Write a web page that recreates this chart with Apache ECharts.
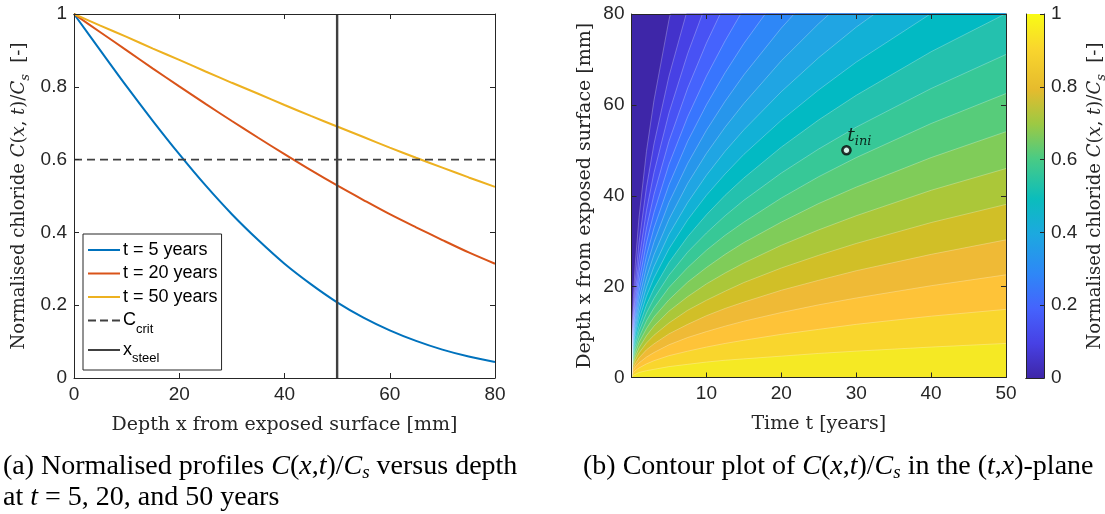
<!DOCTYPE html>
<html>
<head>
<meta charset="utf-8">
<script src="https://cdn.jsdelivr.net/npm/echarts/dist/echarts.min.js"></script>
<style>
html,body{margin:0;padding:0;background:#ffffff;}
#c{width:1105px;height:514px;}
</style>
</head>
<body>
<div id="c"></div>
<script>
// ---------------- DATA ----------------
// (a) profiles: depth x [mm] and normalised chloride C/Cs
const DEPTH_X     = [0, 5, 10, 15, 20, 25, 30, 35, 40, 45, 50, 55, 60, 65, 70, 75, 80];
const PROFILE_T5  = [1, 0.900, 0.801, 0.706, 0.615, 0.529, 0.450, 0.379, 0.314, 0.258, 0.208, 0.166, 0.131, 0.102, 0.078, 0.059, 0.044];
const PROFILE_T20 = [1, 0.950, 0.900, 0.850, 0.801, 0.753, 0.706, 0.660, 0.615, 0.571, 0.529, 0.489, 0.450, 0.414, 0.379, 0.345, 0.314];
const PROFILE_T50 = [1, 0.968, 0.937, 0.905, 0.874, 0.842, 0.811, 0.781, 0.750, 0.720, 0.691, 0.662, 0.633, 0.605, 0.578, 0.551, 0.525];
const PROFILE_NAMES = ['t = 5 years', 't = 20 years', 't = 50 years'];
const C_CRIT  = 0.6;
const X_STEEL = 50;

// (b) contour plot: depth [mm] of each isoline (level of C/Cs) at times TIME_T [years]
const TIME_T = [0, 0.1, 0.25, 0.5, 1, 2, 3, 5, 7.5, 10, 12.5, 15, 20, 25, 30, 40, 50];
const ISO_LEVELS = [0.048, 0.095, 0.143, 0.190, 0.238, 0.286, 0.333, 0.381, 0.429, 0.476,
                    0.524, 0.571, 0.619, 0.667, 0.714, 0.762, 0.810, 0.857, 0.905, 0.952];
const ISO_DEPTHS = [
  [0, 11.1, 17.6, 24.9, 35.2, 49.8, 61.0, 78.7, 96.4, 111.3, 124.5, 136.4, 157.5, 176.1, 192.9, 222.7, 249.0],
  [0, 9.4, 14.8, 21.0, 29.7, 41.9, 51.4, 66.3, 81.2, 93.8, 104.9, 114.9, 132.6, 148.3, 162.4, 187.6, 209.7],
  [0, 8.2, 13.0, 18.4, 26.0, 36.8, 45.1, 58.2, 71.3, 82.4, 92.1, 100.9, 116.5, 130.2, 142.7, 164.7, 184.2],
  [0, 7.4, 11.6, 16.5, 23.3, 32.9, 40.3, 52.0, 63.7, 73.6, 82.3, 90.1, 104.1, 116.4, 127.5, 147.2, 164.6],
  [0, 6.6, 10.5, 14.8, 21.0, 29.7, 36.3, 46.9, 57.4, 66.3, 74.1, 81.2, 93.8, 104.9, 114.9, 132.6, 148.3],
  [0, 6.0, 9.5, 13.4, 19.0, 26.8, 32.9, 42.4, 52.0, 60.0, 67.1, 73.5, 84.9, 94.9, 103.9, 120.0, 134.2],
  [0, 5.4, 8.6, 12.2, 17.2, 24.3, 29.8, 38.5, 47.1, 54.4, 60.8, 66.6, 76.9, 86.0, 94.2, 108.8, 121.6],
  [0, 4.9, 7.8, 11.0, 15.6, 22.0, 27.0, 34.8, 42.7, 49.3, 55.1, 60.3, 69.7, 77.9, 85.3, 98.5, 110.1],
  [0, 4.5, 7.0, 10.0, 14.1, 19.9, 24.4, 31.5, 38.5, 44.5, 49.8, 54.5, 62.9, 70.4, 77.1, 89.0, 99.5],
  [0, 4.0, 6.3, 9.0, 12.7, 17.9, 21.9, 28.3, 34.7, 40.1, 44.8, 49.1, 56.6, 63.3, 69.4, 80.1, 89.6],
  [0, 3.6, 5.7, 8.0, 11.3, 16.0, 19.6, 25.3, 31.0, 35.8, 40.1, 43.9, 50.7, 56.7, 62.1, 71.7, 80.1],
  [0, 3.2, 5.0, 7.1, 10.1, 14.2, 17.4, 22.5, 27.6, 31.8, 35.6, 39.0, 45.0, 50.3, 55.1, 63.6, 71.1],
  [0, 2.8, 4.4, 6.3, 8.8, 12.5, 15.3, 19.8, 24.2, 28.0, 31.3, 34.2, 39.5, 44.2, 48.4, 55.9, 62.5],
  [0, 2.4, 3.8, 5.4, 7.7, 10.8, 13.3, 17.1, 21.0, 24.2, 27.1, 29.7, 34.2, 38.3, 41.9, 48.4, 54.1],
  [0, 2.1, 3.3, 4.6, 6.5, 9.2, 11.3, 14.6, 17.8, 20.6, 23.0, 25.2, 29.1, 32.5, 35.6, 41.2, 46.0],
  [0, 1.7, 2.7, 3.8, 5.4, 7.6, 9.3, 12.0, 14.8, 17.0, 19.0, 20.9, 24.1, 26.9, 29.5, 34.1, 38.1],
  [0, 1.4, 2.1, 3.0, 4.3, 6.1, 7.4, 9.6, 11.7, 13.6, 15.2, 16.6, 19.2, 21.4, 23.5, 27.1, 30.3],
  [0, 1.0, 1.6, 2.3, 3.2, 4.5, 5.5, 7.2, 8.8, 10.1, 11.3, 12.4, 14.3, 16.0, 17.5, 20.2, 22.6],
  [0, 0.7, 1.1, 1.5, 2.1, 3.0, 3.7, 4.8, 5.8, 6.7, 7.5, 8.2, 9.5, 10.6, 11.7, 13.5, 15.0],
  [0, 0.3, 0.5, 0.8, 1.1, 1.5, 1.8, 2.4, 2.9, 3.4, 3.8, 4.1, 4.7, 5.3, 5.8, 6.7, 7.5]
];
const T_INI = [28.7, 50];

// axis ticks
const PROFILE_X_TICKS = [0, 20, 40, 60, 80];
const PROFILE_Y_TICKS = [0, 0.2, 0.4, 0.6, 0.8, 1];
const CONTOUR_T_TICKS = [0, 10, 20, 30, 40, 50];
const CONTOUR_X_TICKS = [0, 20, 40, 60, 80];
const COLORBAR_TICKS  = [0, 0.2, 0.4, 0.6, 0.8, 1];

// ---------------- STYLES ----------------
const AX = '#262626';
const SANS = '"Liberation Sans", Arial, Helvetica, sans-serif';
const SERIF_AX = '"DejaVu Serif", serif';
const SERIF_CAP = '"Liberation Serif", "Times New Roman", serif';
const LINE_COLORS = ['#0072BD', '#D95319', '#EDB120'];
const REF_COLOR = '#404040';
// filled contour band colours (parula), band 0 = below first level
const BAND_COLORS = ['#3e26a8', '#4332cb', '#4741e5', '#4852f4', '#4563fd', '#3875fe', '#2e87f7',
  '#2796eb', '#20a5e3', '#12b1d6', '#02bac3', '#24c1ae', '#37c897', '#57cc7a', '#80cc59',
  '#abc739', '#d1bf27', '#efba36', '#fec338', '#f9d62d', '#f5e924'];
const PARULA_STOPS = ['#3e26a8', '#4741e5', '#4563fd', '#2e87f7', '#1ca9df', '#0bbdbc',
  '#4acb84', '#9dc943', '#e6bb2d', '#f9d62d', '#f9fb15'];
const PARULA_POS = [0, 6, 12, 18, 25, 31, 38, 44, 50, 57, 63];
const ICON_SOLID  = 'path://M0,0H32V2H0Z';
const ICON_DASHED = 'path://M0,0H8V2H0Z M12,0H20V2H12Z M24,0H32V2H24Z';

const pairs = (xs, ys) => xs.map((x, k) => [x, ys[k]]);
const first = a => a[0];
const last = a => a[a.length - 1];

const tickLabel = {color: AX, fontSize: 19, fontFamily: SANS, margin: 7};
function mathRich(fs) {
  return {
    i: {fontFamily: SERIF_AX, fontStyle: 'italic', fontSize: fs, color: AX, lineHeight: 26},
    s: {fontFamily: SERIF_AX, fontStyle: 'italic', fontSize: Math.round(fs * 0.7), color: AX, lineHeight: 13, verticalAlign: 'bottom'}
  };
}
const nameStyle = fs => ({fontFamily: SERIF_AX, fontSize: fs, color: AX, lineHeight: 26, rich: mathRich(fs)});

function valAxis(o) {
  const main = !o.box;
  return Object.assign({
    type: 'value', z: 10,
    axisLine: {show: true, onZero: false, lineStyle: {color: AX, width: 1}},
    axisTick: {show: true, inside: true, length: 5, lineStyle: {color: AX, width: 1}},
    axisLabel: main ? Object.assign({show: true}, tickLabel) : {show: false},
    splitLine: {show: false}
  }, o);
}

const xAxes = [
  valAxis({gridIndex: 0, position: 'bottom', min: first(PROFILE_X_TICKS), max: last(PROFILE_X_TICKS),
    interval: PROFILE_X_TICKS[1] - PROFILE_X_TICKS[0],
    name: 'Depth x from exposed surface [mm]', nameLocation: 'middle', nameGap: 34, nameTextStyle: nameStyle(19)}),
  valAxis({gridIndex: 0, position: 'top', box: true, min: first(PROFILE_X_TICKS), max: last(PROFILE_X_TICKS),
    interval: PROFILE_X_TICKS[1] - PROFILE_X_TICKS[0]}),
  valAxis({gridIndex: 1, position: 'bottom', min: first(CONTOUR_T_TICKS), max: last(CONTOUR_T_TICKS),
    interval: CONTOUR_T_TICKS[1] - CONTOUR_T_TICKS[0],
    axisLabel: Object.assign({show: true, showMinLabel: false}, tickLabel),
    name: 'Time t [years]', nameLocation: 'middle', nameGap: 34, nameTextStyle: nameStyle(19)}),
  valAxis({gridIndex: 1, position: 'top', box: true, min: first(CONTOUR_T_TICKS), max: last(CONTOUR_T_TICKS),
    interval: CONTOUR_T_TICKS[1] - CONTOUR_T_TICKS[0]}),
  {type: 'category', gridIndex: 2, position: 'bottom', data: ['cb'], z: 10,
    axisLine: {show: true, lineStyle: {color: AX}}, axisTick: {show: false}, axisLabel: {show: false}},
  {type: 'category', gridIndex: 2, position: 'top', data: ['cb'], z: 10,
    axisLine: {show: true, lineStyle: {color: AX}}, axisTick: {show: false}, axisLabel: {show: false}}
];
const yAxes = [
  valAxis({gridIndex: 0, position: 'left', min: first(PROFILE_Y_TICKS), max: last(PROFILE_Y_TICKS),
    interval: PROFILE_Y_TICKS[1] - PROFILE_Y_TICKS[0],
    name: 'Normalised chloride {i|C}({i|x}, {i|t})/{i|C}{s|s}  [-]', nameLocation: 'middle', nameGap: 42,
    nameTextStyle: nameStyle(18)}),
  valAxis({gridIndex: 0, position: 'right', box: true, min: first(PROFILE_Y_TICKS), max: last(PROFILE_Y_TICKS),
    interval: PROFILE_Y_TICKS[1] - PROFILE_Y_TICKS[0]}),
  valAxis({gridIndex: 1, position: 'left', min: first(CONTOUR_X_TICKS), max: last(CONTOUR_X_TICKS),
    interval: CONTOUR_X_TICKS[1] - CONTOUR_X_TICKS[0],
    name: 'Depth x from exposed surface [mm]', nameLocation: 'middle', nameGap: 33, nameTextStyle: nameStyle(19)}),
  valAxis({gridIndex: 1, position: 'right', box: true, min: first(CONTOUR_X_TICKS), max: last(CONTOUR_X_TICKS),
    interval: CONTOUR_X_TICKS[1] - CONTOUR_X_TICKS[0]}),
  valAxis({gridIndex: 2, position: 'right', min: first(COLORBAR_TICKS), max: last(COLORBAR_TICKS),
    interval: COLORBAR_TICKS[1] - COLORBAR_TICKS[0],
    axisTick: {show: true, inside: true, length: 4, lineStyle: {color: AX}},
    name: 'Normalised chloride {i|C}({i|x}, {i|t})/{i|C}{s|s}  [-]', nameLocation: 'middle', nameGap: 38,
    nameTextStyle: nameStyle(18)}),
  valAxis({gridIndex: 2, position: 'left', box: true, axisTick: {show: false},
    min: first(COLORBAR_TICKS), max: last(COLORBAR_TICKS)})
];

const series = [];
// contour bands: each isoline fills down to x = 0 with the band colour above its level
ISO_DEPTHS.forEach((row, i) => {
  series.push({
    name: 'C/Cs = ' + ISO_LEVELS[i], type: 'line', xAxisIndex: 2, yAxisIndex: 2,
    data: pairs(TIME_T, row), symbol: 'none', showSymbol: false, silent: true, clip: true,
    lineStyle: {color: 'rgba(255,255,255,0.45)', width: 0.6},
    areaStyle: {color: BAND_COLORS[i + 1], opacity: 1, origin: 'start'},
    z: 1, animation: false
  });
});
series.push({
  name: 't_ini', type: 'scatter', xAxisIndex: 2, yAxisIndex: 2, data: [T_INI],
  symbol: 'circle', symbolSize: 8, z: 5, silent: true,
  itemStyle: {color: '#ffffff', borderColor: '#000000', borderWidth: 2.6},
  label: {show: true, position: [6, -21], formatter: '{t|t}{s|ini}',
    rich: {t: {fontFamily: SERIF_AX, fontStyle: 'italic', fontSize: 19, color: '#000', lineHeight: 24},
           s: {fontFamily: SERIF_AX, fontStyle: 'italic', fontSize: 13, color: '#000', lineHeight: 13, verticalAlign: 'bottom'}}}
});
// profiles
[PROFILE_T5, PROFILE_T20, PROFILE_T50].forEach((p, k) => {
  series.push({
    name: PROFILE_NAMES[k], type: 'line', xAxisIndex: 0, yAxisIndex: 0,
    data: pairs(DEPTH_X, p), symbol: 'none', showSymbol: false, smooth: 0.3, z: 3,
    color: LINE_COLORS[k], lineStyle: {color: LINE_COLORS[k], width: 2}
  });
});
series.push({
  name: 'C_crit', type: 'line', xAxisIndex: 0, yAxisIndex: 0,
  data: [[first(DEPTH_X), C_CRIT], [last(DEPTH_X), C_CRIT]], symbol: 'none', z: 3,
  color: REF_COLOR, lineStyle: {color: REF_COLOR, width: 1.8, type: [8, 5]}
});
series.push({
  name: 'x_steel', type: 'line', xAxisIndex: 0, yAxisIndex: 0,
  data: [[X_STEEL, first(PROFILE_Y_TICKS)], [X_STEEL, last(PROFILE_Y_TICKS)]], symbol: 'none', z: 3,
  color: REF_COLOR, lineStyle: {color: REF_COLOR, width: 2.4}
});
// colorbar
series.push({
  name: 'colorbar', type: 'bar', xAxisIndex: 4, yAxisIndex: 4, data: [last(COLORBAR_TICKS)],
  barWidth: '100%', silent: true, z: 1,
  itemStyle: {color: new echarts.graphic.LinearGradient(0, 1, 0, 0,
    PARULA_STOPS.map((c, k) => ({offset: PARULA_POS[k] / 63, color: c})))}
});

const capRich = {
  i: {fontFamily: SERIF_CAP, fontStyle: 'italic', fontSize: 28, color: '#000', lineHeight: 31},
  s: {fontFamily: SERIF_CAP, fontStyle: 'italic', fontSize: 19, color: '#000', lineHeight: 16, verticalAlign: 'bottom'}
};
const capStyle = {fontFamily: SERIF_CAP, fontSize: 28, fontWeight: 'normal', color: '#000', lineHeight: 31, rich: capRich};

const option = {
  animation: false,
  backgroundColor: '#ffffff',
  title: [
    {text: '(a) Normalised profiles {i|C}({i|x},{i|t})/{i|C}{s|s} versus depth\nat {i|t} = 5, 20, and 50 years',
     left: 3, top: 451, padding: 0, textStyle: capStyle},
    {text: '(b) Contour plot of {i|C}({i|x},{i|t})/{i|C}{s|s} in the ({i|t},{i|x})-plane',
     left: 583, top: 451, padding: 0, textStyle: capStyle}
  ],
  legend: {
    data: [
      {name: PROFILE_NAMES[0], icon: ICON_SOLID},
      {name: PROFILE_NAMES[1], icon: ICON_SOLID},
      {name: PROFILE_NAMES[2], icon: ICON_SOLID},
      {name: 'C_crit', icon: ICON_DASHED},
      {name: 'x_steel', icon: ICON_SOLID}
    ],
    orient: 'vertical', left: 83, top: 234, padding: [7, 4, 5, 5], itemGap: 5.5,
    itemWidth: 32, itemHeight: 2, backgroundColor: '#ffffff', borderColor: AX, borderWidth: 1,
    borderRadius: 0, selectedMode: false,
    formatter: n => n === 'C_crit' ? '{m|C}{s|crit}' : (n === 'x_steel' ? '{m|x}{s|steel}' : '{p|' + n + '}'),
    textStyle: {color: '#000', fontFamily: SANS, fontSize: 18, padding: [0, 0, 0, -2],
      rich: {
        p: {fontFamily: SANS, fontSize: 18, color: '#000', lineHeight: 20},
        m: {fontFamily: SANS, fontSize: 18, color: '#000', lineHeight: 30},
        s: {fontFamily: SANS, fontSize: 13, color: '#000', lineHeight: 13, verticalAlign: 'bottom'}
      }}
  },
  grid: [
    {left: 74, right: 1105 - 495, top: 14, bottom: 514 - 378, outerBoundsMode: 'none'},
    {left: 631.5, right: 1105 - 1006, top: 14, bottom: 514 - 377.5, outerBoundsMode: 'none',
     show: true, backgroundColor: BAND_COLORS[0], borderWidth: 0},
    {left: 1026, right: 1105 - 1044, top: 14, bottom: 514 - 378, outerBoundsMode: 'none'}
  ],
  xAxis: xAxes,
  yAxis: yAxes,
  series: series
};

const chart = echarts.init(document.getElementById('c'), null, {renderer: 'canvas'});
chart.setOption(option);
</script>
</body>
</html>
